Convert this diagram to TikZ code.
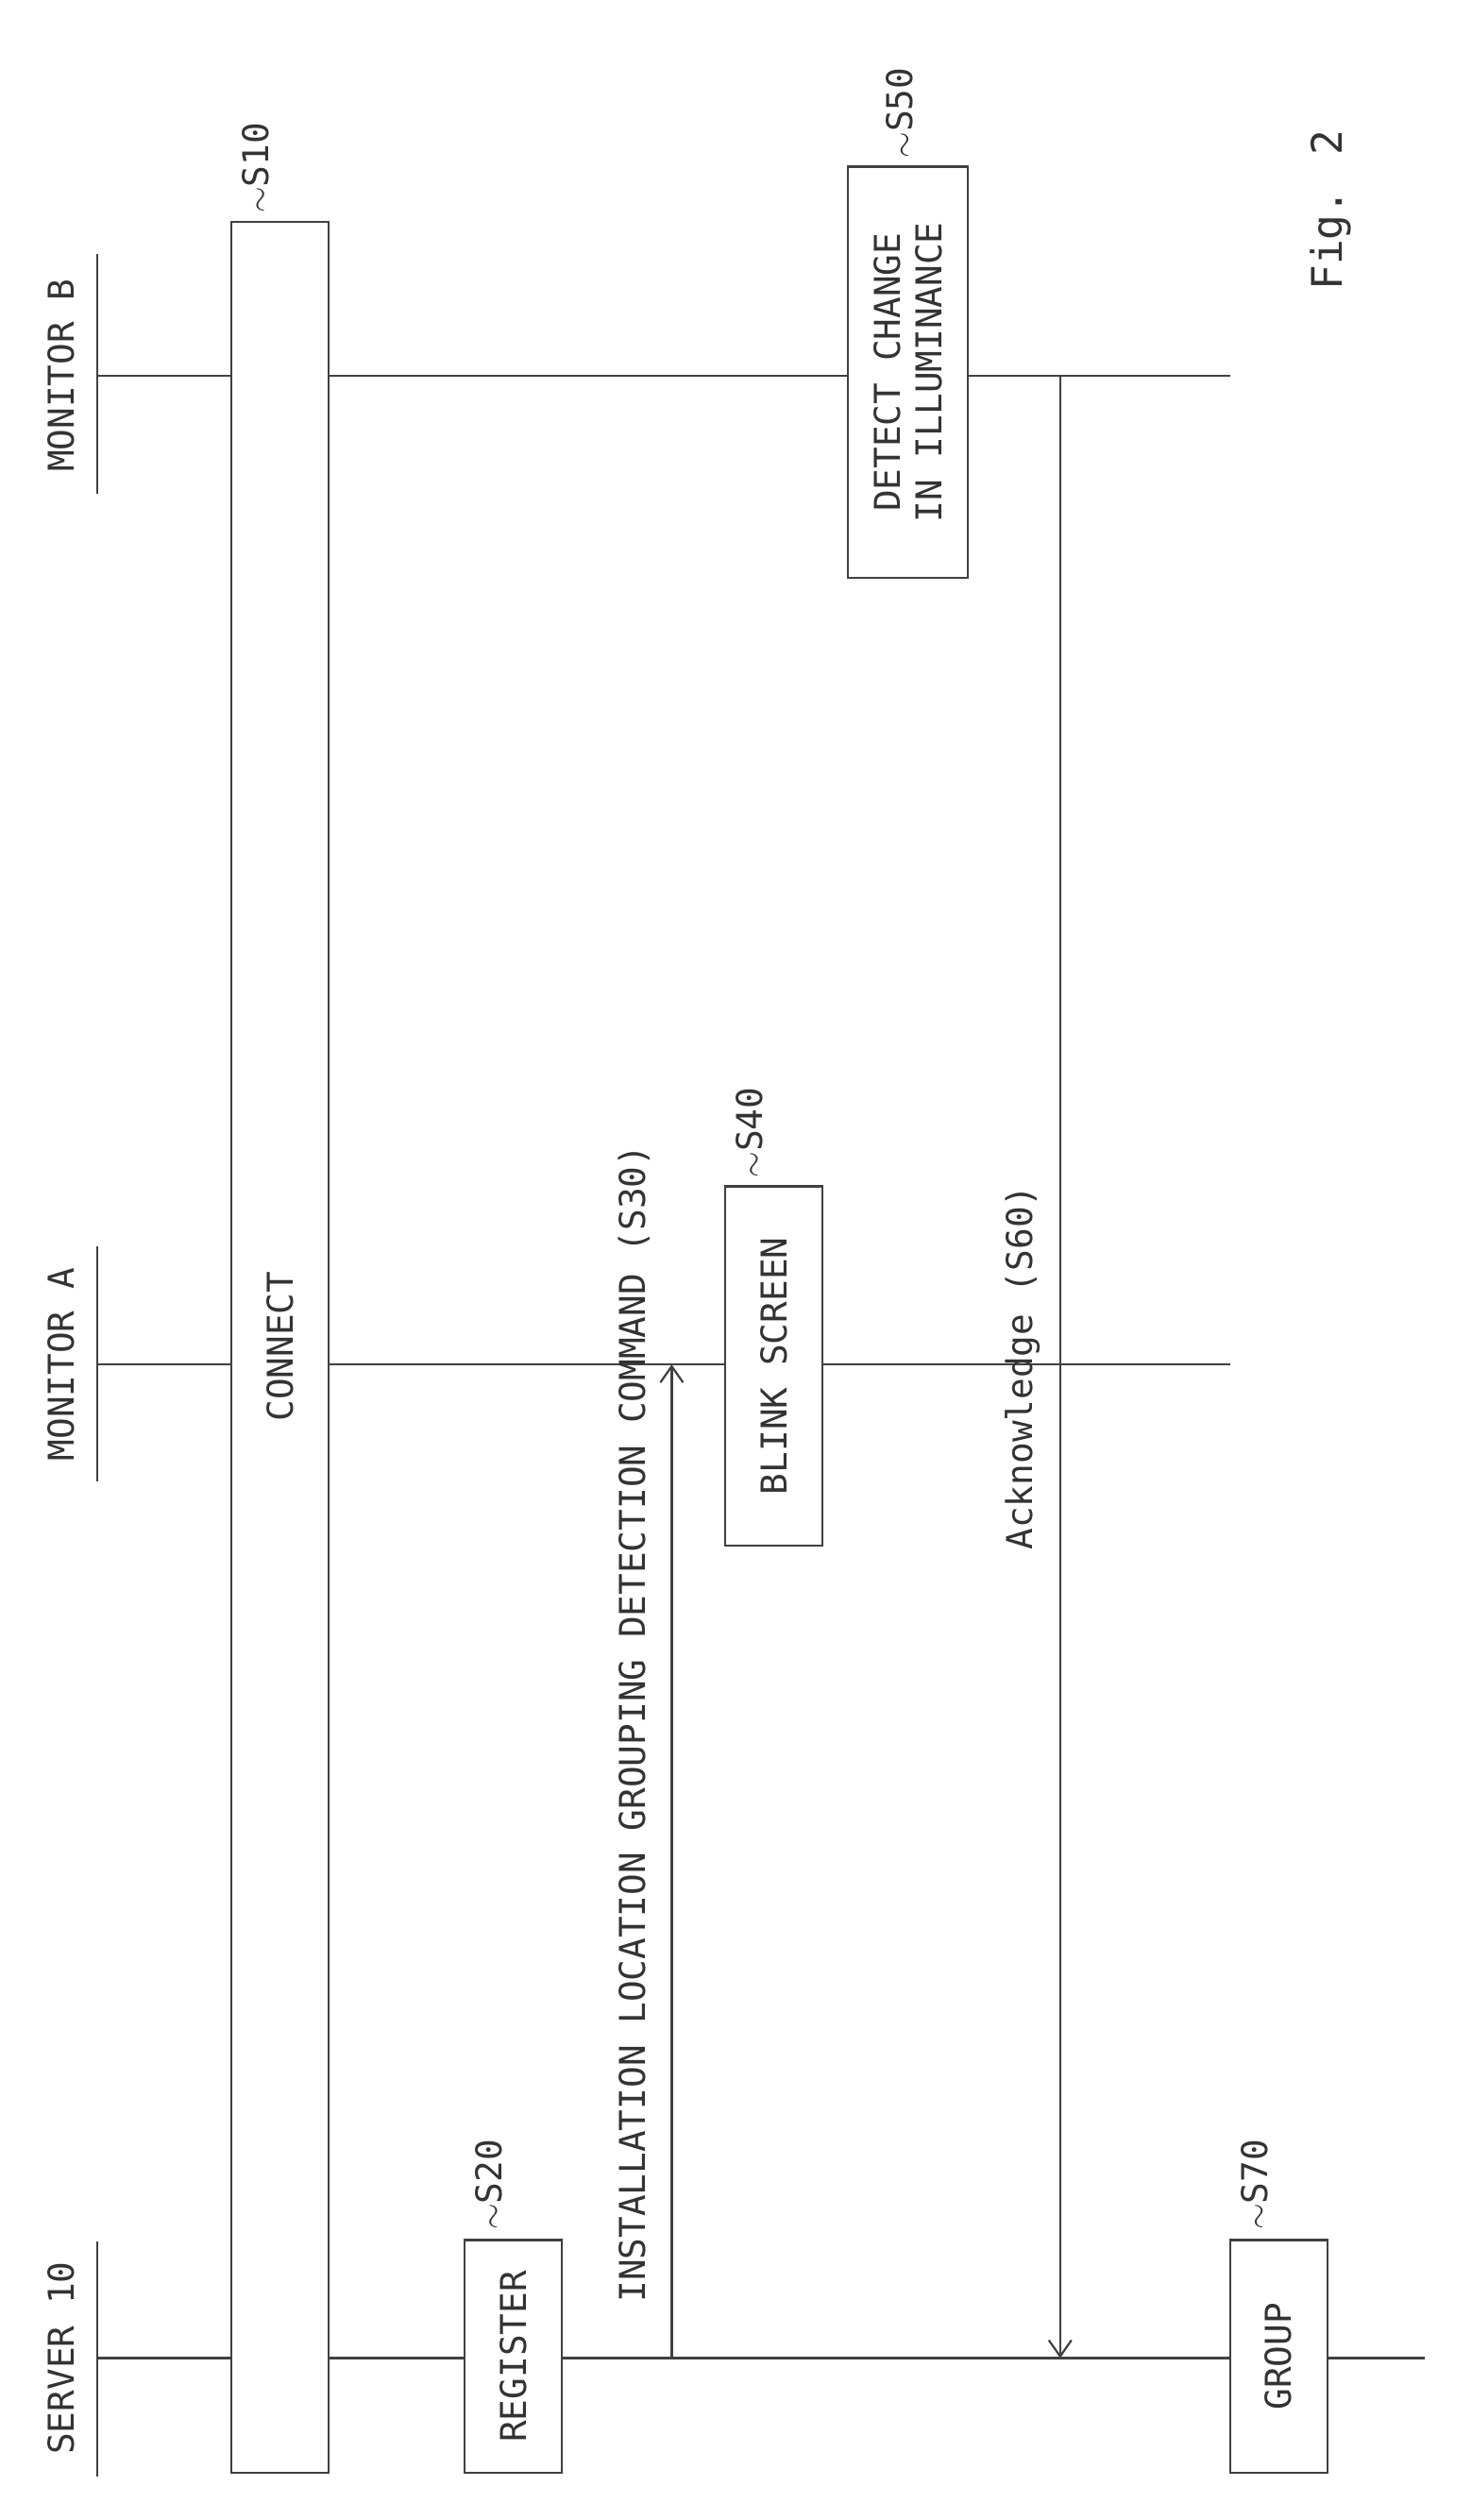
\documentclass[tikz,border=0pt]{standalone}
\usepackage{fontspec}
\setmainfont{DejaVu Sans Mono}
\usetikzlibrary{arrows.meta}
\begin{document}
\begin{tikzpicture}[x=1pt,y=-1pt,
  ln/.style={draw=black!75,line width=1.3pt},
  bx/.style={ln,fill=white},
  txt/.style={rotate=90,font=\fontsize{22}{26}\selectfont,inner sep=0pt,text=black!80},
  lab/.style={txt,anchor=west},
  arr/.style={ln,-{Straight Barb[length=10pt,width=14pt]}}]
\useasboundingbox[fill=white] (0,0) rectangle (909,1557);
% lifelines
\draw[ln] (60,1457) coordinate (s0) -- (880,1457) coordinate (s1);
\draw[ln] (60,843) coordinate (a0) -- (760,843) coordinate (a1);
\draw[ln] (60,232) coordinate (b0) -- (760,232) coordinate (b1);
\draw[ln] (60,1385) -- (60,1530);
\draw[ln] (60,770) -- (60,915);
\draw[ln] (60,157) -- (60,305);
\node[txt] (ls) at (38,1457) {SERVER 10};
\node[txt] (la) at (38,843) {MONITOR A};
\node[txt] (lb) at (38,232) {MONITOR B};
% boxes
\draw[bx] (143,137) rectangle (203,1528);
\node[txt] (conn) at (173,832) {CONNECT};
\node[lab] (s10) at (158,132) {$\sim$S10};
\draw[bx] (287,1384) rectangle (347,1528);
\node[txt] (reg) at (317,1456) {REGISTER};
\node[lab] (s20) at (302,1378) {$\sim$S20};
\draw[bx] (448,733) rectangle (508,955);
\node[txt] (blink) at (478,844) {BLINK SCREEN};
\node[lab] (s40) at (463,728) {$\sim$S40};
\draw[bx] (524,103) rectangle (598,357);
\node[txt,align=center] (det) at (561,230) {DETECT CHANGE\\IN ILLUMINANCE};
\node[lab] (s50) at (556,98) {$\sim$S50};
\draw[bx] (760,1384) rectangle (820,1528);
\node[txt] (grp) at (790,1456) {GROUP};
\node[lab] (s70) at (775,1378) {$\sim$S70};
% messages
\coordinate (m30a) at (415,1457);
\coordinate (m30b) at (415,843);
\draw[arr] (m30a) -- (m30b);
\node[txt] (t30) at (392,1065) {INSTALLATION LOCATION GROUPING DETECTION COMMAND (S30)};
\coordinate (m60a) at (655,232);
\coordinate (m60b) at (655,1457);
\draw[arr] (m60a) -- (m60b);
\node[txt] (t60) at (632,845) {Acknowledge (S60)};
\node[txt,font=\fontsize{26}{30}\selectfont] (fig) at (822,130) {Fig. 2};
\end{tikzpicture}
\end{document}
